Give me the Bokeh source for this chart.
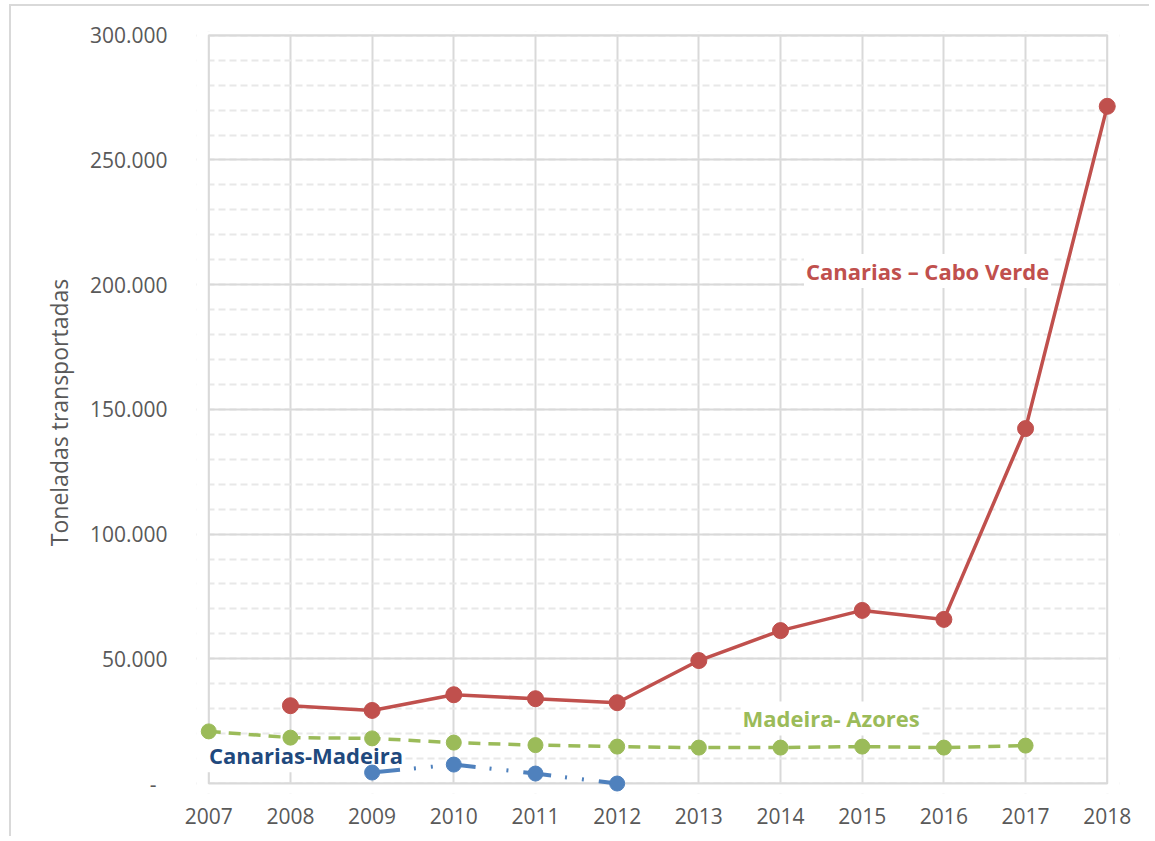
import math
from bokeh.plotting import figure
from bokeh.models import Range1d, FixedTicker
from bokeh.core.properties import value
from bokeh.embed import file_html
from bokeh.resources import INLINE

nan = float("nan")

# ---- data ----
years = [2007, 2008, 2009, 2010, 2011, 2012, 2013, 2014, 2015, 2016, 2017, 2018]
canarias_cabo_verde = [nan, 31200, 29300, 35600, 34000, 32400, 49300, 61300, 69400, 65800, 142300, 271500]
madeira_azores = [20900, 18400, 18100, 16400, 15400, 14800, 14400, 14400, 14800, 14400, 15200, nan]
canarias_madeira = [nan, nan, 4400, 7600, 4000, 0, nan, nan, nan, nan, nan, nan]

y_ticks = [0, 50000, 100000, 150000, 200000, 250000, 300000]
y_tick_labels = ["-\u00a0\u00a0", "50.000", "100.000", "150.000", "200.000", "250.000", "300.000"]
y_minor_step = 10000

series_names = ["Canarias \u2013 Cabo Verde", "Madeira- Azores", "Canarias-Madeira"]

# ---- figure ----
FONT = "Open Sans"
GRID = "#d9d9d9"
TXT = "#595959"

# ranges padded a little so markers on the plot-area edge are not clipped
x0, x1 = years[0], years[-1]
y0, y1 = y_ticks[0], y_ticks[-1]
xr = Range1d(x0 - 0.15, x1 + 0.15)
yr = Range1d(y0 - 4000, y1 + 1500)

p = figure(width=1140, height=832, output_backend="svg", toolbar_location=None,
           x_range=xr, y_range=yr,
           min_border_left=185, min_border_top=25, min_border_right=32, min_border_bottom=45)
p.styles = {"margin-left": "9px", "margin-top": "4px",
            "border-left": "2px solid #d9d9d9", "border-top": "2px solid #d9d9d9"}
p.background_fill_color = "white"
p.border_fill_color = "white"
p.outline_line_color = None

p.xaxis.ticker = FixedTicker(ticks=years)
p.yaxis.ticker = FixedTicker(ticks=y_ticks,
                             minor_ticks=list(range(y0, y1 + 1, y_minor_step)))
p.yaxis.major_label_overrides = {t: lab for t, lab in zip(y_ticks, y_tick_labels)}

for ax in (p.xaxis[0], p.yaxis[0]):
    ax.axis_line_color = None
    ax.major_tick_line_color = None
    ax.minor_tick_line_color = None
    ax.major_label_text_font = FONT
    ax.major_label_text_font_size = "21px"
    ax.major_label_text_color = TXT
p.xaxis.major_label_standoff = 8
p.yaxis.major_label_standoff = 23

p.yaxis.axis_label = "Toneladas transportadas"
p.yaxis.axis_label_text_font = FONT
p.yaxis.axis_label_text_font_size = "23px"
p.yaxis.axis_label_text_font_style = "normal"
p.yaxis.axis_label_text_color = TXT
p.yaxis.axis_label_standoff = 12

p.xgrid.ticker = FixedTicker(ticks=years)
p.xgrid.grid_line_color = GRID
p.xgrid.grid_line_width = 2
p.ygrid.grid_line_color = GRID
p.ygrid.grid_line_width = 2
p.ygrid.minor_grid_line_color = "#e8e8e8"
p.ygrid.minor_grid_line_width = 2
p.ygrid.minor_grid_line_dash = "7 4"

# white masks outside the plot area (hide grid overhang), then plot-area border
p.quad(left=[xr.start, x1, xr.start, xr.start], right=[x0, xr.end, xr.end, xr.end],
       bottom=[yr.start, yr.start, yr.start, y1], top=[yr.end, yr.end, y0, yr.end],
       fill_color="white", line_color=None)
p.quad(left=[x0], right=[x1], bottom=[y0], top=[y1],
       fill_color=None, line_color=GRID, line_width=2)

# ---- in-chart series labels (white boxes over the grid, under the lines) ----
RED = "#C0504D"
GREEN = "#9BBB59"
BLUE = "#4F81BD"

label_x = [2015.8, 2014.62, 2008.19]
label_y = [205500, 26100, 11300]
label_colors = [RED, GREEN, "#1F497D"]
p.text(x=label_x, y=label_y, text=series_names, text_color=label_colors,
       text_font=value(FONT), text_font_style="bold", text_font_size="22px",
       text_align="center", text_baseline="middle",
       background_fill_color="white", padding=2)

# ---- series ----
p.line(years, madeira_azores, line_color=GREEN, line_width=3.5, line_dash="12 8")
p.scatter(years, madeira_azores, size=15, color=GREEN)

p.line(years, canarias_madeira, line_color=BLUE, line_width=4, line_dash="28 14 2 15 2 15")
p.scatter(years, canarias_madeira, size=15, color=BLUE)

p.line(years, canarias_cabo_verde, line_color=RED, line_width=3.5)
p.scatter(years, canarias_cabo_verde, size=16, color=RED)

open("out.html", "w").write(file_html(p, INLINE))
